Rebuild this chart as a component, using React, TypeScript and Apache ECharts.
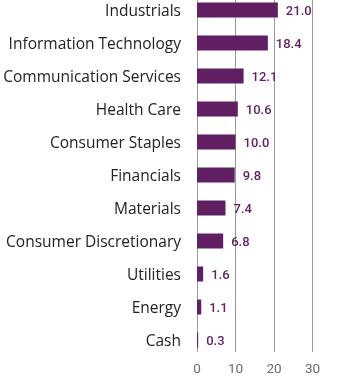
import React, { useEffect, useRef } from "react";
import * as echarts from "echarts";

const categories = [
  "Industrials",
  "Information Technology",
  "Communication Services",
  "Health Care",
  "Consumer Staples",
  "Financials",
  "Materials",
  "Consumer Discretionary",
  "Utilities",
  "Energy",
  "Cash",
];
const values = [21.0, 18.4, 12.1, 10.6, 10.0, 9.8, 7.4, 6.8, 1.6, 1.1, 0.3];
const xTicks = [0, 10, 20, 30];

const FONT = "Roboto, 'DejaVu Sans', sans-serif";
const CAT_FONT = "'Open Sans', Roboto, sans-serif";
const PURPLE = "#5f1f62";
const OFFSET = 20;

export default function App() {
  const ref = useRef<HTMLDivElement>(null);
  useEffect(() => {
    if (!ref.current) return;
    const chart = echarts.init(ref.current, null, { renderer: "svg" });
    const left = 197;
    const right = 27.5;
    chart.setOption({
      animation: false,
      grid: [
        { left, right, top: OFFSET - 6.5, height: 363, containLabel: false },
        { left, right, top: OFFSET, height: 352, containLabel: false },
      ],
      xAxis: [
        {
          gridIndex: 0,
          type: "value",
          min: xTicks[0],
          max: xTicks[xTicks.length - 1],
          interval: 10,
          show: false,
        },
        {
          gridIndex: 1,
          type: "value",
          min: xTicks[0],
          max: xTicks[xTicks.length - 1],
          interval: 10,
          axisLine: { show: false },
          axisTick: { show: false },
          splitLine: { show: true, lineStyle: { color: "#9a9a9a", width: 1 } },
          axisLabel: {
            color: "#6a6a6a",
            fontFamily: FONT,
            fontSize: 13.5,
            margin: 9,
          },
        },
      ],
      yAxis: [
        {
          gridIndex: 0,
          type: "category",
          data: categories,
          inverse: true,
          axisLine: { show: false },
          axisTick: { show: false },
          splitLine: { show: false },
          axisLabel: {
            color: "#222",
            fontFamily: CAT_FONT,
            fontSize: 15.5,
            margin: 16,
          },
        },
        {
          gridIndex: 1,
          type: "value",
          show: false,
          min: 0,
          max: 1,
        },
      ],
      series: [
        {
          type: "bar",
          xAxisIndex: 0,
          yAxisIndex: 0,
          data: values,
          barWidth: 15,
          itemStyle: { color: PURPLE },
          label: {
            show: true,
            position: "right",
            distance: 8,
            color: PURPLE,
            fontFamily: FONT,
            fontSize: 13,
            fontWeight: 500,
            formatter: (p: any) => Number(p.value).toFixed(1),
          },
        },
      ],
    });
    return () => chart.dispose();
  }, []);
  return (
    <div
      ref={ref}
      style={{
        position: "fixed",
        left: 0,
        top: -OFFSET,
        width: 340,
        height: 379 + OFFSET,
      }}
    />
  );
}
